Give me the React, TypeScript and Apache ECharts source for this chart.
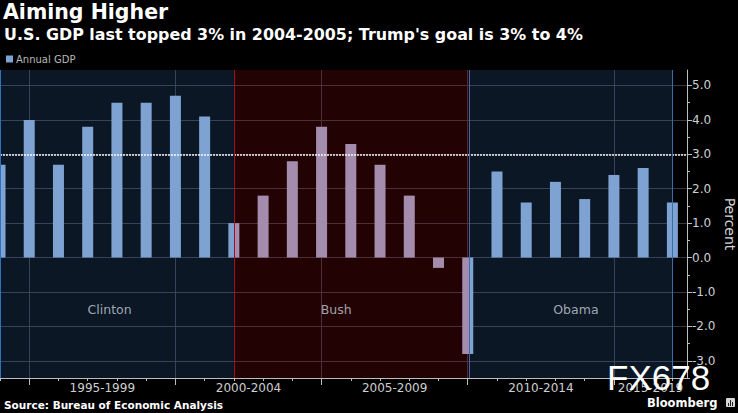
import React, { useEffect, useRef } from "react";
import * as echarts from "echarts";

// ---- data ----
const years = [1993, 1994, 1995, 1996, 1997, 1998, 1999, 2000, 2001, 2002, 2003, 2004, 2005, 2006, 2007, 2008, 2009, 2010, 2011, 2012, 2013, 2014, 2015, 2016];
const gdp = [2.7, 4.0, 2.7, 3.8, 4.5, 4.5, 4.7, 4.1, 1.0, 1.8, 2.8, 3.8, 3.3, 2.7, 1.8, -0.3, -2.8, 2.5, 1.6, 2.2, 1.7, 2.4, 2.6, 1.6];
const periodLabels = ["1995-1999", "2000-2004", "2005-2009", "2010-2014", "2015-2019"];
const periodLabelAt = [1996.5, 2001.5, 2006.5, 2011.5, 2015.25];
const majorTickYears = [1994, 1999, 2004, 2009, 2014];
const yTicks = [-3, -2, -1, 0, 1, 2, 3, 4, 5];
const yMinorTicks = [-3.5, -3, -2.5, -2, -1.5, -1, -0.5, 0, 0.5, 1, 1.5, 2, 2.5, 3, 3.5, 4, 4.5, 5];
const presidents = ["Clinton", "Bush", "Obama"];
const termStart = [1993, 2001, 2009.05];
const termEnd = [2001, 2009.05, 2016];
const termLabelYear = [1996.75, 2004.5, 2012.7];
const termLabelValue = -1.5;
const goal = 3.0;
const yAxisTitle = "Percent";

// ---- styles ----
const FONT = "DejaVu Sans";
const regionFill = ["rgba(60,120,190,0.19)", "rgba(185,8,22,0.19)", "rgba(60,120,190,0.19)"];
const regionEdge = ["#2f6fc0", "#a0101c", "#3a6cae"];
const barFill = ["#7ea3d2", "#a48dac", "#7ea3d2"];
const halfBar = 0.188;

function termOf(x: number) {
  for (let i = 0; i < termEnd.length; i++) if (x < termEnd[i]) return i;
  return termEnd.length - 1;
}

function barColor(y: number): any {
  const a = y - halfBar;
  const b = y + halfBar;
  for (let i = 1; i < termStart.length; i++) {
    const t = termStart[i];
    if (a < t && t < b) {
      const off = (t - a) / (b - a);
      const l = barFill[termOf(a)];
      const r = barFill[termOf(b)];
      return new echarts.graphic.LinearGradient(0, 0, 1, 0, [
        { offset: 0, color: l },
        { offset: off, color: l },
        { offset: off, color: r },
        { offset: 1, color: r },
      ]);
    }
  }
  return barFill[termOf(y)];
}

export default function App() {
  const ref = useRef<HTMLDivElement>(null);
  useEffect(() => {
    if (!ref.current) return;
    const chart = echarts.init(ref.current, null, { renderer: "svg" });
    const axisColor = "#bdbdbd";
    const labelColor = "#cfcfcf";
    const gridColor = "#343842";
    const xMin = 1993;
    const xMax = 2016.5;
    const yMin = -3.5;
    const yMax = 5.45;

    const option: any = {
      animation: false,
      backgroundColor: "#000",
      title: [
        {
          text: "Aiming Higher",
          left: 3,
          top: 1,
          padding: 0,
          textStyle: { fontFamily: FONT, fontWeight: "bold", fontSize: 20.5, color: "#fff" },
        },
        {
          text: "U.S. GDP last topped 3% in 2004-2005; Trump's goal is 3% to 4%",
          left: 4,
          top: 26,
          padding: 0,
          textStyle: { fontFamily: FONT, fontWeight: "bold", fontSize: 15.9, color: "#fff" },
        },
        {
          text: "Source: Bureau of Economic Analysis",
          left: 4,
          top: 399,
          padding: 0,
          textStyle: { fontFamily: FONT, fontWeight: "bold", fontSize: 10.5, color: "#fff" },
        },
      ],
      legend: {
        data: ["Annual GDP"],
        left: 6,
        top: 54,
        padding: 0,
        icon: "rect",
        itemWidth: 7,
        itemHeight: 7,
        itemGap: 3,
        textStyle: { fontFamily: FONT, fontSize: 10, color: "#b8b8b8", padding: [0, 0, 0, -2] },
      },
      grid: { left: 0, top: 70, right: 51, bottom: 35, containLabel: false, outerBoundsMode: "none" },
      xAxis: [
        {
          type: "value",
          min: xMin,
          max: xMax,
          position: "bottom",
          axisLine: { show: true, onZero: false, lineStyle: { color: axisColor, width: 1 } },
          axisTick: { show: true, customValues: years, length: 3, lineStyle: { color: axisColor } },
          axisLabel: {
            show: true,
            customValues: periodLabelAt,
            margin: 4,
            color: labelColor,
            fontFamily: FONT,
            fontSize: 12,
            formatter: (v: number) => {
              const i = periodLabelAt.findIndex((p) => Math.abs(p - v) < 1e-6);
              return i >= 0 ? periodLabels[i] : "";
            },
          },
          splitLine: { show: false },
        },
        {
          type: "value",
          min: xMin,
          max: xMax,
          position: "bottom",
          axisLine: { show: false, onZero: false },
          axisTick: { show: true, customValues: majorTickYears, length: 7, lineStyle: { color: axisColor } },
          axisLabel: { show: false },
          splitLine: { show: true, lineStyle: { color: gridColor, width: 1 } },
        },
      ],
      yAxis: [
        {
          type: "value",
          min: yMin,
          max: yMax,
          position: "right",
          axisLine: { show: true, onZero: false, lineStyle: { color: axisColor, width: 1 } },
          axisTick: { show: true, customValues: yMinorTicks, length: 3, lineStyle: { color: axisColor } },
          axisLabel: { show: false },
          splitLine: { show: false },
        },
        {
          type: "value",
          min: yMin,
          max: yMax,
          position: "right",
          axisLine: { show: false, onZero: false },
          axisTick: { show: true, customValues: yTicks, length: 5, lineStyle: { color: axisColor } },
          axisLabel: {
            show: true,
            customValues: yTicks,
            margin: 5,
            color: labelColor,
            fontFamily: FONT,
            fontSize: 12,
            formatter: (v: number) => v.toFixed(1),
          },
          splitLine: { show: true, lineStyle: { color: gridColor, width: 1 } },
        },
      ],
      series: [
        {
          name: "Annual GDP",
          type: "bar",
          xAxisIndex: 0,
          yAxisIndex: 0,
          barWidth: 11,
          z: 2,
          itemStyle: { color: barFill[0] },
          data: years.map((y, i) => ({ value: [y, gdp[i]], itemStyle: { color: barColor(y) } })),
          markArea: {
            silent: true,
            data: presidents.map((p, i) => [
              { xAxis: termStart[i], itemStyle: { color: regionFill[i] } },
              { xAxis: termEnd[i] },
            ]),
          },
          markLine: {
            silent: true,
            symbol: "none",
            label: { show: false },
            data: [
              { yAxis: goal, lineStyle: { color: "#ffffff", type: [2, 1], width: 1.5, opacity: 0.95 } },
              ...presidents.map((p, i) => ({
                xAxis: termStart[i],
                lineStyle: { color: regionEdge[i], type: "solid", width: i === 0 ? 2 : 1 },
              })),
              { xAxis: termEnd[termEnd.length - 1], lineStyle: { color: regionEdge[2], type: "solid", width: 1 } },
            ],
          },
        },
        {
          name: "terms",
          type: "scatter",
          xAxisIndex: 0,
          yAxisIndex: 0,
          symbolSize: 0,
          silent: true,
          z: 3,
          data: presidents.map((p, i) => ({ name: p, value: [termLabelYear[i], termLabelValue] })),
          label: {
            show: true,
            position: "inside",
            formatter: (pr: any) => pr.name,
            fontFamily: FONT,
            fontSize: 12.5,
            color: "#c8ced8",
          },
        },
      ],
      graphic: [
        {
          type: "text",
          x: 730,
          y: 224,
          rotation: -Math.PI / 2,
          z: 100,
          style: {
            text: yAxisTitle,
            fill: "#d4d4d4",
            font: "14px 'DejaVu Sans'",
            align: "center",
            verticalAlign: "middle",
          },
        },
        {
          type: "text",
          left: 607,
          top: 360,
          z: 100,
          style: { text: "FX678", fill: "#ffffff", font: "35px 'Liberation Sans'" },
        },
        {
          type: "text",
          left: 647,
          top: 397,
          z: 100,
          style: { text: "Bloomberg", fill: "#ffffff", font: "bold 11.5px 'DejaVu Sans'" },
        },
        {
          type: "group",
          left: 726,
          top: 398,
          z: 100,
          children: [
            { type: "rect", shape: { x: 0, y: 0, width: 9, height: 9, r: 1 }, style: { fill: "#d6d6d6" } },
            { type: "rect", shape: { x: 2, y: 5, width: 1, height: 3 }, style: { fill: "#222" } },
            { type: "rect", shape: { x: 4, y: 2, width: 1, height: 6 }, style: { fill: "#222" } },
            { type: "rect", shape: { x: 6, y: 4, width: 1, height: 4 }, style: { fill: "#222" } },
          ],
        },
      ],
    };
    chart.setOption(option);
    return () => chart.dispose();
  }, []);
  return (
    <div
      ref={ref}
      style={{ position: "fixed", left: 0, top: 0, width: 738, height: 413, background: "#000" }}
    />
  );
}
